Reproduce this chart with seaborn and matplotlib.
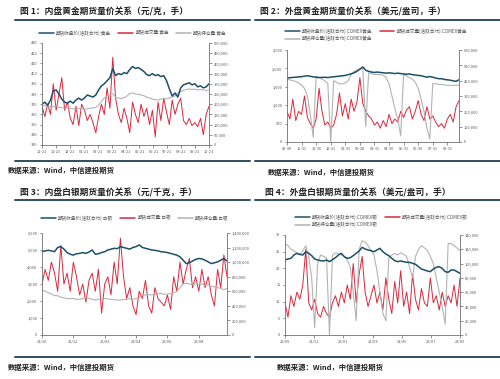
import numpy as np
import seaborn as sns
import matplotlib.pyplot as plt
from matplotlib.lines import Line2D
from matplotlib.ticker import FuncFormatter

# ---- chart 1: SHFE gold ----
c1_ticks = ["10-21", "11-21", "12-21", "01-21", "02-21", "03-21", "04-21",
            "05-21", "06-21", "07-21", "08-21", "09-21", "10-21"]
c1_price = [370, 372, 369, 374, 383, 384, 380, 375, 372, 371, 373, 371, 374, 376, 374,
            376, 379, 378, 377, 379, 384, 388, 390, 393, 396, 405, 398, 400, 399, 401,
            400, 404, 407, 405, 406, 404, 402, 399, 398, 400, 398, 399, 397, 398, 393,
            385, 378, 381, 377, 386, 389, 390, 391, 389, 390, 387, 388, 386, 387, 390]
c1_volume = [190, 140, 200, 150, 300, 170, 250, 330, 170, 210, 130, 100, 190, 95, 200,
             170, 120, 150, 110, 60, 140, 200, 150, 280, 180, 430, 230, 150, 110, 180,
             130, 60, 210, 150, 110, 200, 140, 180, 100, 170, 40, 210, 120, 230, 160,
             100, 220, 150, 200, 230, 120, 100, 130, 95, 110, 90, 130, 50, 150, 190]
c1_oi = [190, 195, 185, 190, 188, 192, 185, 183, 180, 182, 180, 178, 176, 180, 178,
         175, 177, 180, 182, 185, 195, 215, 230, 240, 245, 250, 235, 230, 228, 232,
         240, 252, 255, 250, 248, 245, 242, 235, 230, 225, 222, 220, 225, 228, 226,
         230, 235, 240, 255, 262, 268, 272, 275, 272, 274, 270, 272, 270, 268, 270]

# ---- chart 2: COMEX gold ----
c2_ticks = ["09-30", "10-31", "11-30", "12-31", "01-31", "02-28",
            "03-31", "04-30", "05-31", "06-30", "07-31", "08-31"]
c2_price = [1750, 1745, 1755, 1760, 1770, 1775, 1790, 1800, 1785, 1770,
            1760, 1750, 1755, 1760, 1750, 1765, 1770, 1780, 1790, 1800,
            1810, 1830, 1850, 1880, 1920, 1980, 2040, 1950, 1920, 1900,
            1890, 1900, 1890, 1880, 1870, 1880, 1870, 1860, 1870, 1860,
            1850, 1840, 1850, 1830, 1820, 1810, 1800, 1780, 1760, 1780,
            1760, 1740, 1720, 1720, 1700, 1690, 1680, 1660, 1650, 1690]
c2_volume = [200, 150, 280, 140, 200, 180, 300, 160, 120, 90, 150, 350, 200, 110, 130,
             90, 110, 180, 320, 170, 250, 150, 280, 200, 260, 420, 250, 200, 170, 150,
             110, 130, 90, 140, 100, 180, 120, 150, 130, 200, 160, 210, 230, 150, 200,
             270, 180, 140, 230, 150, 170, 130, 100, 120, 90, 150, 180, 130, 230, 270]
c2_oi = [410, 405, 400, 395, 385, 370, 350, 300, 180, 30, 430, 420, 410, 400, 380,
         0, 400, 390, 380, 380, 385, 400, 440, 460, 470, 475, 480, 100, 450, 445,
         440, 440, 440, 435, 420, 380, 300, 220, 150, 40, 440, 430, 420, 410, 390,
         350, 280, 200, 90, 20, 380, 380, 375, 375, 372, 370, 370, 368, 370, 372]

# ---- chart 3: SHFE silver ----
c3_ticks = ["21/10", "21/12", "22/02", "22/04", "22/06", "22/08"]
c3_price = [4900, 4950, 4980, 4950, 4900, 5150, 5200, 5050, 4850, 4750,
            4700, 4780, 4800, 4850, 4800, 4880, 5000, 4750, 4780, 4850,
            4900, 5000, 5050, 5100, 5080, 5200, 5150, 5100, 5050, 5150,
            5200, 5300, 5150, 5100, 5050, 5000, 4980, 4950, 4900, 4880,
            4850, 4800, 4750, 4700, 4600, 4400, 4200, 4250, 4350, 4450,
            4500, 4480, 4400, 4300, 4200, 4250, 4300, 4400, 4500, 4350]
c3_volume = [700, 900, 750, 1000, 850, 600, 1230, 700, 850, 600, 1000, 800, 550, 700, 450,
             750, 850, 600, 900, 300, 700, 800, 550, 1000, 700, 1330, 800, 500, 650, 400,
             280, 600, 500, 750, 400, 300, 650, 500, 450, 400, 550, 350, 800, 600, 1000,
             700, 900, 1050, 650, 800, 600, 900, 650, 800, 550, 400, 900, 650, 1100, 800]
c3_oi = [620, 600, 580, 560, 540, 540, 520, 510, 500, 500, 500, 490, 490, 500, 510,
         500, 490, 480, 490, 500, 500, 495, 490, 485, 480, 480, 485, 490, 500, 490,
         500, 520, 540, 550, 555, 550, 560, 565, 570, 560, 560, 570, 580, 600, 650,
         700, 710, 700, 690, 700, 690, 700, 680, 690, 670, 660, 650, 640, 620, 640]

# ---- chart 4: COMEX silver ----
c4_ticks = ["21/09", "21/11", "22/01", "22/03", "22/05", "22/07", "22/09"]
c4_price = [22.5, 22.8, 23.0, 24.0, 24.5, 24.2, 24.0, 25.0, 24.5, 23.8,
            22.8, 22.5, 22.3, 22.2, 22.5, 22.0, 22.6, 23.2, 24.0, 24.5,
            23.5, 23.0, 23.2, 23.8, 24.5, 25.2, 26.3, 25.8, 25.5, 25.3,
            25.0, 25.5, 26.0, 25.0, 24.3, 23.8, 23.0, 22.3, 22.0, 22.2,
            22.0, 21.8, 21.8, 21.5, 21.2, 20.5, 19.8, 19.5, 19.2, 19.0,
            19.8, 20.3, 20.5, 20.0, 19.0, 18.8, 19.5, 19.5, 19.0, 18.5]
c4_volume = [45, 25, 55, 40, 60, 50, 70, 120, 45, 35, 50, 30, 25, 40, 30,
             25, 45, 55, 40, 60, 45, 70, 50, 100, 45, 85, 110, 60, 40, 55,
             70, 45, 60, 35, 80, 50, 30, 75, 45, 90, 40, 60, 30, 85, 50,
             35, 65, 45, 40, 80, 45, 55, 35, 60, 40, 55, 45, 70, 40, 80]
c4_oi = [128, 125, 120, 118, 115, 112, 118, 125, 110, 80, 10, 100, 112, 110, 108,
         0, 112, 115, 114, 112, 110, 105, 95, 60, 20, 120, 132, 130, 125, 118,
         112, 90, 60, 30, 20, 108, 112, 114, 112, 115, 113, 110, 95, 80, 110,
         120, 125, 122, 118, 110, 100, 80, 60, 40, 15, 128, 128, 125, 122, 118]

sns.set_style("ticks")
plt.rcParams['font.family'] = ['Noto Sans CJK SC', 'DejaVu Sans']
plt.rcParams['axes.unicode_minus'] = False

BLUE = "#1d4f6b"
RED = "#d8283c"
GRAY = "#b3b3b3"
RULE = "#2e4e60"
TXT = "#555555"

fig = plt.figure(figsize=(5, 3.79), dpi=100)
W, H = 500, 379


def px(x, y):
    return x / W, 1 - y / H


def panel(rect, price, volume, oi, ticks, ylim, yticks, y2lim, y2ticks):
    ax = fig.add_axes(rect)
    ax2 = ax.twinx()
    x = np.arange(len(price))
    sns.lineplot(x=x, y=np.array(volume) * 1000, ax=ax2, color=RED, linewidth=0.7)
    sns.lineplot(x=x, y=np.array(oi) * 1000, ax=ax2, color=GRAY, linewidth=0.8)
    sns.lineplot(x=x, y=price, ax=ax, color=BLUE, linewidth=1.1)
    ax.set_zorder(ax2.get_zorder() + 1)
    ax.patch.set_visible(False)
    ax.set_xlim(0, len(price) - 1)
    ax.set_ylim(*ylim)
    ax.set_yticks(yticks)
    ax2.set_ylim(*y2lim)
    ax2.set_yticks(y2ticks)
    ax.set_xticks(np.linspace(0, len(price) - 1, len(ticks)) if len(ticks) in (7, 13)
                  else np.arange(len(ticks)) * (10 if len(ticks) == 6 else 5))
    ax.set_xticklabels(ticks)
    fmt = FuncFormatter(lambda v, p: f"{v:,.0f}")
    ax.yaxis.set_major_formatter(fmt)
    ax2.yaxis.set_major_formatter(fmt)
    for a in (ax, ax2):
        a.set_xlabel("")
        a.set_ylabel("")
        a.tick_params(labelsize=2.8, length=1.8, width=0.5, pad=1.5,
                      colors="#666666", labelcolor=TXT)
        for s in a.spines.values():
            s.set_linewidth(0.6)
            s.set_color("#707070")
        a.spines["top"].set_visible(False)
    ax.spines["right"].set_visible(False)
    ax2.spines["left"].set_visible(False)
    ax2.spines["bottom"].set_visible(False)
    return ax


def rule(x0, x1, y):
    fig.add_artist(Line2D([x0 / W, x1 / W], [1 - y / H, 1 - y / H],
                          color=RULE, linewidth=1.4, transform=fig.transFigure))


def handles():
    return [Line2D([], [], color=BLUE, linewidth=1.1),
            Line2D([], [], color=RED, linewidth=1.1),
            Line2D([], [], color=GRAY, linewidth=1.1)]


leg_kw = dict(frameon=False, fontsize=3.3, handlelength=3.2, handletextpad=0.5,
              columnspacing=1.6, labelcolor=TXT, borderaxespad=0, borderpad=0)

# panel 1
panel([42 / W, 1 - 145 / H, 167 / W, 102 / H], c1_price, c1_volume, c1_oi, c1_ticks,
      (330, 430), range(330, 431, 10), (0, 500000), range(0, 500001, 50000))
fig.text(*px(20, 12), "图 1：内盘黄金期货量价关系（元/克，手）", fontsize=6.3,
         fontweight="bold", va="center", color="#222222")
rule(15, 250, 20)
fig.legend(handles(), ["期货收盘价(活跃合约):黄金", "期货成交量:黄金", "期货持仓量:黄金"],
           loc="center", bbox_to_anchor=px(133, 33), ncol=3, **leg_kw)
rule(15, 250, 161)
fig.text(*px(8, 170), "数据来源：Wind，中信建投期货", fontsize=5.3, fontweight="bold",
         style="italic", va="center", color="#222222")

# panel 2
panel([287 / W, 1 - 142 / H, 172 / W, 92 / H], c2_price, c2_volume, c2_oi, c2_ticks,
      (0, 2500), range(0, 2501, 500), (0, 600000), range(0, 600001, 100000))
fig.text(*px(260, 12), "图 2：外盘黄金期货量价关系（美元/盎司，手）", fontsize=6.3,
         fontweight="bold", va="center", color="#222222")
rule(255, 500, 20)
h = handles()
fig.legend([h[0], h[2], h[1]],
           ["期货收盘价(活跃合约):COMEX黄金", "期货持仓量(活跃合约):COMEX黄金",
            "期货成交量(活跃合约):COMEX黄金"],
           loc="upper left", bbox_to_anchor=px(285, 28), ncol=2, **leg_kw)
rule(255, 500, 161)
fig.text(*px(268, 172), "数据来源：Wind，中信建投期货", fontsize=5.3, fontweight="bold",
         style="italic", va="center", color="#222222")

# panel 3
panel([42 / W, 1 - 335 / H, 185 / W, 102 / H], c3_price, c3_volume, c3_oi, c3_ticks,
      (0, 6000), range(0, 6001, 1000), (0, 1400000), range(0, 1400001, 200000))
fig.text(*px(20, 193), "图 3：内盘白银期货量价关系（元/千克，手）", fontsize=6.3,
         fontweight="bold", va="center", color="#222222")
rule(15, 250, 200)
fig.legend(handles(), ["期货收盘价(活跃合约):白银", "期货成交量:白银", "期货持仓量:白银"],
           loc="center", bbox_to_anchor=px(135, 218), ncol=3, **leg_kw)
rule(15, 250, 357)
fig.text(*px(8, 367), "数据来源：Wind，中信建投期货", fontsize=5.3, fontweight="bold",
         style="italic", va="center", color="#222222")

# panel 4
panel([285 / W, 1 - 335 / H, 175 / W, 100 / H], c4_price, c4_volume, c4_oi, c4_ticks,
      (0, 30), range(0, 31, 5), (0, 140000), range(0, 140001, 20000))
fig.text(*px(265, 193), "图 4：外盘白银期货量价关系（美元/盎司，手）", fontsize=6.3,
         fontweight="bold", va="center", color="#222222")
rule(255, 500, 200)
fig.legend([h[0], h[2], h[1]],
           ["期货收盘价(活跃合约):COMEX银", "期货持仓量(活跃合约):COMEX银",
            "期货成交量(活跃合约):COMEX银"],
           loc="upper left", bbox_to_anchor=px(295, 214), ncol=2, **leg_kw)
rule(255, 500, 357)
fig.text(*px(277, 367), "数据来源：Wind，中信建投期货", fontsize=5.3, fontweight="bold",
         style="italic", va="center", color="#222222")

fig.savefig("out.png", dpi=100)
